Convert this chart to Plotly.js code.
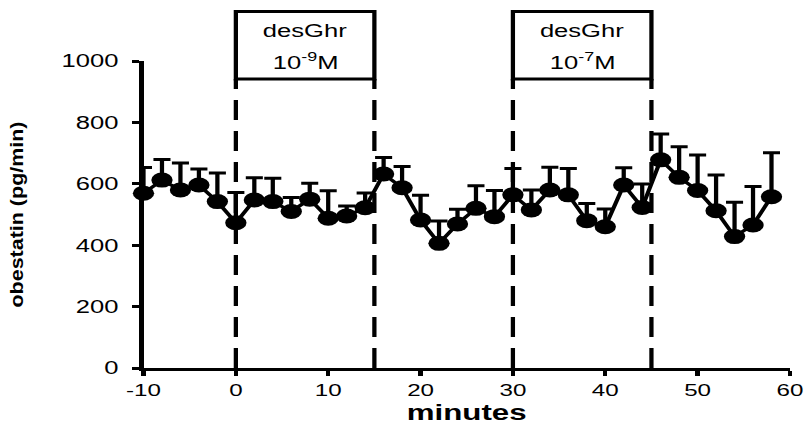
<!DOCTYPE html>
<html>
<head>
<meta charset="utf-8">
<script src="https://cdn.plot.ly/plotly-3.0.1.min.js"></script>
<style>
  html, body { margin: 0; padding: 0; overflow: hidden; background: #fff; }
  /* chart is laid out narrow and widened horizontally */
  #wrap { width: 568px; height: 425px; transform: scaleX(1.4208); transform-origin: 0 0; }
</style>
</head>
<body>
<div id="wrap"><div id="chart" style="width:568px;height:425px;"></div></div>
<script>
// sampling times (minutes)
const minutes = [-10, -8, -6, -4, -2, 0, 2, 4, 6, 8, 10, 12, 14, 16, 18, 20, 22, 24,
                 26, 28, 30, 32, 34, 36, 38, 40, 42, 44, 46, 48, 50, 52, 54, 56, 58];
// obestatin secretion, mean (pg/min)
const obestatin = [569, 612, 580, 596, 542, 473, 547, 542, 510, 550, 488, 495, 522, 632,
                   587, 482, 406, 469, 520, 493, 564, 515, 580, 564, 480, 460, 596, 523,
                   678, 621, 578, 512, 428, 466, 558];
// upper error (SEM)
const sem = [84, 67, 88, 52, 93, 99, 73, 76, 45, 52, 89, 33, 48, 54, 69, 81, 73, 48,
             74, 85, 86, 65, 74, 86, 56, 58, 56, 76, 84, 100, 116, 117, 112, 125, 143];
// infusion periods
const periodStart = [0, 30];
const periodEnd = [15, 45];
const periodDrug = ['desGhr', 'desGhr'];
const periodDose = ['10<sup>-9</sup>M', '10<sup>-7</sup>M'];
const xTicks = [-10, 0, 10, 20, 30, 40, 50, 60];
const yTicks = [0, 200, 400, 600, 800, 1000];

const FONT = 'Liberation Sans, Arial, sans-serif';
const boxBottom = 0.9414, boxTop = 1.1612;

const shapes = [];
const annotations = [];
periodStart.forEach((s, i) => {
  const e = periodEnd[i];
  [s, e].forEach(x => shapes.push({
    type: 'line', xref: 'x', yref: 'paper', x0: x, x1: x, y0: 0, y1: boxBottom,
    line: {color: '#000', width: 3, dash: '20px,11px'}, layer: 'below'
  }));
  shapes.push({
    type: 'rect', xref: 'x', yref: 'paper', x0: s, x1: e, y0: boxBottom, y1: boxTop,
    line: {color: '#000', width: 3}, fillcolor: 'rgba(0,0,0,0)'
  });
  annotations.push({
    xref: 'x', yref: 'paper', x: (s + e) / 2, y: 1.098, yanchor: 'middle', text: periodDrug[i],
    showarrow: false, font: {family: FONT, size: 18, color: '#000'}
  });
  annotations.push({
    xref: 'x', yref: 'paper', x: (s + e) / 2, y: 0.997, yanchor: 'middle', text: periodDose[i],
    showarrow: false, font: {family: FONT, size: 18, color: '#000'}
  });
});

const trace = {
  x: minutes, y: obestatin, type: 'scatter', mode: 'lines+markers',
  line: {color: '#000', width: 3},
  marker: {color: '#000', size: 15, symbol: 'circle'},
  error_y: {type: 'data', symmetric: false, array: sem,
            arrayminus: sem.map(() => 0), color: '#000', thickness: 3, width: 6},
  cliponaxis: false, showlegend: false
};

const layout = {
  width: 568, height: 425,
  margin: {l: 101, r: 12, t: 61, b: 57},
  paper_bgcolor: '#fff', plot_bgcolor: '#fff',
  font: {family: FONT, color: '#000'},
  showlegend: false,
  xaxis: {
    range: [-10, 60], tickvals: xTicks, ticktext: xTicks.map(String),
    showline: true, linewidth: 3, linecolor: '#000', showgrid: false, zeroline: false,
    ticks: 'outside', ticklen: 5, tickwidth: 3, tickcolor: '#000',
    ticklabelstandoff: 0,
    tickfont: {family: FONT, size: 17, color: '#000'},
    title: {text: 'minutes', font: {family: FONT, size: 22, color: '#000', weight: 'bold'}, standoff: 4}
  },
  yaxis: {
    range: [0, 1000], tickvals: yTicks, ticktext: yTicks.map(String),
    showline: true, linewidth: 3, linecolor: '#000', showgrid: false, zeroline: false,
    ticks: 'outside', ticklen: 5, tickwidth: 3, tickcolor: '#000',
    ticklabelstandoff: 6,
    tickfont: {family: FONT, size: 18, color: '#000'},
    title: {text: 'obestatin (pg/min)', font: {family: FONT, size: 13, color: '#000', weight: 'bold'}, standoff: 24}
  },
  shapes: shapes,
  annotations: annotations
};

Plotly.newPlot('chart', [trace], layout, {staticPlot: true, displayModeBar: false}).then(gd => {
  // stretch the vertical axis title along its baseline
  const t = gd.querySelector('.ytitle');
  if (t) {
    t.setAttribute('textLength', '186');
    t.setAttribute('lengthAdjust', 'spacingAndGlyphs');
  }
});
</script>
</body>
</html>
